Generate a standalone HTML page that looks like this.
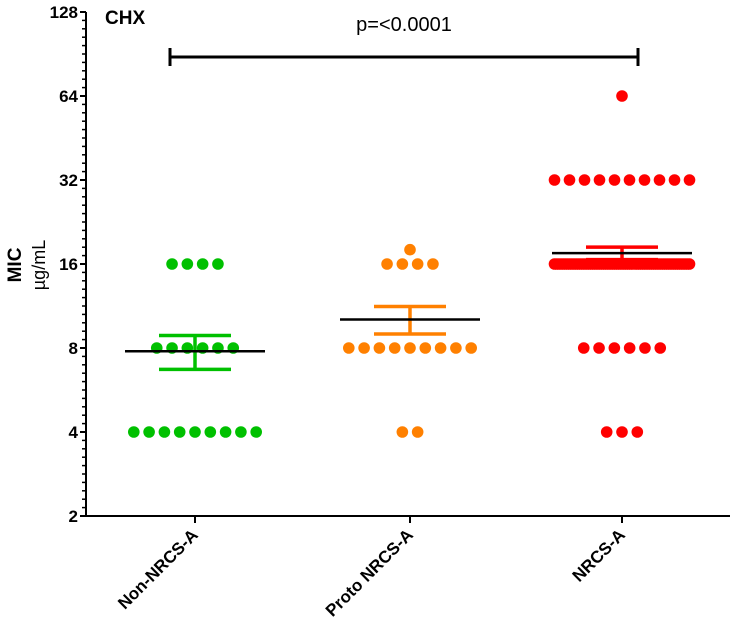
<!DOCTYPE html>
<html><head><meta charset="utf-8"><style>
body{margin:0;background:#fff}
svg{display:block;font-family:"Liberation Sans",Arial,sans-serif}
</style></head><body>
<svg id="chart" width="730" height="638"></svg>
<script>
const categories = ["Non-NRCS-A","Proto NRCS-A","NRCS-A"];
const colors = ["#00c000","#ff8000","#ff0000"];
const levels = [[16,8,4],[18,16,8,4],[64,32,16,8,4]];
const counts = [[4,6,9],[1,4,9,2],[1,10,63,6,3]];
const yTicks = [2,4,8,16,32,64,128];
const pLabel = "p=<0.0001";

const svg = document.getElementById('chart');
const NS = "http://www.w3.org/2000/svg";
function mk(tag, attrs, parent){const e=document.createElementNS(NS,tag);for(const k in attrs)e.setAttribute(k,attrs[k]);(parent||svg).appendChild(e);return e;}
const y0=516, oct=84, axX=86;
function y(v){return y0-(Math.log2(v)-1)*oct;}
const catX=[195,410,622];
function x(i){return catX[i];}

const ax=mk('g',{});


mk('line',{x1:axX,y1:y(128),x2:axX,y2:y0+1,stroke:'#000','stroke-width':2},ax);
yTicks.forEach((t,i)=>{
  mk('line',{x1:axX-6,y1:y(t),x2:axX,y2:y(t),stroke:'#000','stroke-width':2},ax);
  const tx=mk('text',{x:axX-8,y:y(t)+6,'text-anchor':'end','font-size':17,'font-weight':'bold'},ax);
  tx.textContent=t;
  if(i<yTicks.length-1){for(let k=1;k<10;k++){const yy=y(t)-k*oct/10;mk('line',{x1:axX-4,y1:yy,x2:axX,y2:yy,stroke:'#000','stroke-width':1.5},ax);}}
});
const xa=mk('g',{});


mk('line',{x1:axX-1,y1:y0,x2:730,y2:y0,stroke:'#000','stroke-width':2},xa);
categories.forEach((c,i)=>{
  mk('line',{x1:x(i),y1:y0,x2:x(i),y2:y0+7,stroke:'#000','stroke-width':2},xa);
  const t=mk('text',{x:x(i)+4,y:y0+20,'text-anchor':'end','font-size':17,'font-weight':'bold',transform:`rotate(-45 ${x(i)+4} ${y0+20})`},xa);
  t.textContent=c;
});
const yl=mk('g',{transform:'translate(30 265) rotate(-90)'});


const t1=mk('text',{x:0,y:-9,'text-anchor':'middle','font-size':19,'font-weight':'bold'},yl);t1.textContent="MIC";
const t2=mk('text',{x:0,y:15,'text-anchor':'middle','font-size':18},yl);t2.textContent="µg/mL";
const ti=mk('text',{x:105,y:24,'font-size':19,'font-weight':'bold'});


ti.textContent="CHX";

categories.forEach((c,i)=>{
  const g=mk('g',{});
  
  
  let vals=[];
  levels[i].forEach((lv,j)=>{
    const n=counts[i][j];
    for(let k=0;k<n;k++)vals.push(lv);
    const sp=n>1?Math.min(15.3,135/(n-1)):0;
    for(let k=0;k<n;k++){
      const cx=x(i)+(k-(n-1)/2)*sp;
      const p=mk('circle',{cx:cx,cy:y(lv),r:5.8,fill:colors[i]},g);
      
      
    }
  });
  const n=vals.length, mean=vals.reduce((a,b)=>a+b,0)/n;
  const sd=Math.sqrt(vals.reduce((a,b)=>a+(b-mean)**2,0)/(n-1)), sem=sd/Math.sqrt(n);
  const eb=mk('g',{stroke:colors[i],'stroke-width':3.5},g);
  
  
  mk('line',{x1:x(i),y1:y(mean+sem),x2:x(i),y2:y(mean-sem)},eb);
  mk('line',{x1:x(i)-36,y1:y(mean+sem),x2:x(i)+36,y2:y(mean+sem)},eb);
  mk('line',{x1:x(i)-36,y1:y(mean-sem),x2:x(i)+36,y2:y(mean-sem)},eb);
  const ml=mk('line',{x1:x(i)-70,y1:y(mean),x2:x(i)+70,y2:y(mean),stroke:'#000','stroke-width':2.5},g);
  
  
});

const sg=mk('g',{stroke:'#000','stroke-width':3});


mk('line',{x1:170,y1:57,x2:638,y2:57},sg);
mk('line',{x1:170,y1:48,x2:170,y2:66},sg);
mk('line',{x1:638,y1:48,x2:638,y2:66},sg);
const pt=mk('text',{x:404,y:31,'text-anchor':'middle','font-size':20});


pt.textContent=pLabel;
</script>
</body></html>
